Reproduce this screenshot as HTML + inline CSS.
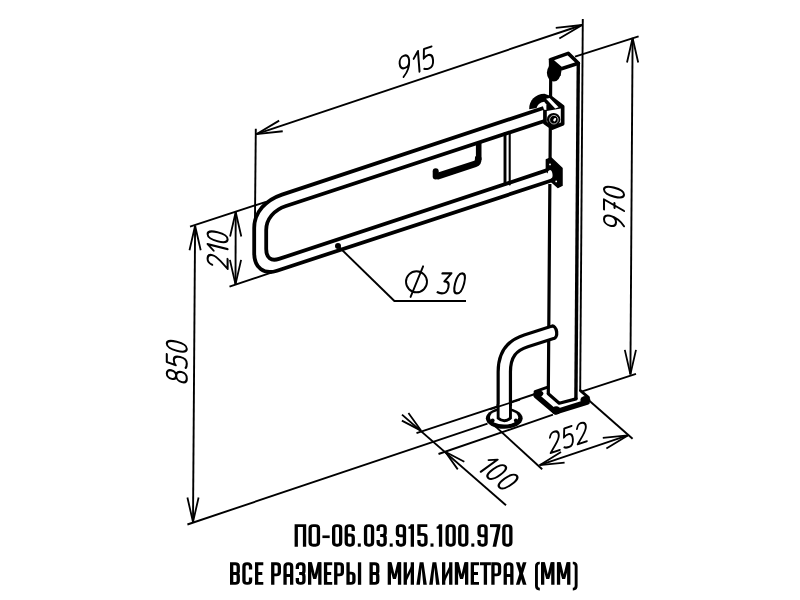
<!DOCTYPE html>
<html><head><meta charset="utf-8"><title>PO-06.03.915.100.970</title>
<style>
html,body{margin:0;padding:0;background:#fff;font-family:"Liberation Sans",sans-serif;}
body{width:800px;height:600px;overflow:hidden;}
svg{display:block;}
</style></head>
<body>
<svg width="800" height="600" viewBox="0 0 800 600">
<rect width="800" height="600" fill="#fff"/>
<g stroke="#000" stroke-width="1.9" stroke-linecap="butt" fill="none"><line x1="256.3" y1="134.2" x2="582.2" y2="25.0"/>
<line x1="255.8" y1="128.8" x2="254.9" y2="228"/>
<line x1="582.8" y1="19" x2="580.2" y2="391"/>
<line x1="575" y1="56.7" x2="638.6" y2="36.4"/>
<line x1="632.6" y1="38" x2="630.4" y2="374.4"/>
<line x1="581.5" y1="391.7" x2="636" y2="373.8"/>
<line x1="190" y1="226.7" x2="266" y2="201.8"/>
<line x1="229.5" y1="286.6" x2="272" y2="272.4"/>
<line x1="235.7" y1="212" x2="235.5" y2="284.4"/>
<line x1="195.1" y1="225.7" x2="193" y2="522"/>
<line x1="187.4" y1="524.5" x2="487.5" y2="423.6"/>
<line x1="416.5" y1="433.2" x2="535" y2="394"/>
<line x1="438.5" y1="454" x2="553" y2="414.7"/>
<line x1="402" y1="414.6" x2="506" y2="505.2"/>
<line x1="494.5" y1="425.6" x2="542.2" y2="469.3"/>
<line x1="588.5" y1="400" x2="632.6" y2="438.8"/>
<line x1="539.6" y1="465.2" x2="627.8" y2="435.4"/>
<line x1="338" y1="246" x2="394.4" y2="301"/>
<line x1="393.8" y1="301" x2="466" y2="301"/></g>
<path d="M279.17,120.63 L256.30,134.20 L282.73,131.25" fill="none" stroke="#000" stroke-width="1.8" stroke-linejoin="bevel"/>
<path d="M559.33,38.57 L582.20,25.00 L555.77,27.95" fill="none" stroke="#000" stroke-width="1.8" stroke-linejoin="bevel"/>
<path d="M638.20,62.50 L632.60,38.00 L627.00,62.50" fill="none" stroke="#000" stroke-width="1.8" stroke-linejoin="bevel"/>
<path d="M624.80,349.90 L630.40,374.40 L636.00,349.90" fill="none" stroke="#000" stroke-width="1.8" stroke-linejoin="bevel"/>
<path d="M241.30,236.50 L235.70,212.00 L230.10,236.50" fill="none" stroke="#000" stroke-width="1.8" stroke-linejoin="bevel"/>
<path d="M229.90,259.90 L235.50,284.40 L241.10,259.90" fill="none" stroke="#000" stroke-width="1.8" stroke-linejoin="bevel"/>
<path d="M200.70,250.20 L195.10,225.70 L189.50,250.20" fill="none" stroke="#000" stroke-width="1.8" stroke-linejoin="bevel"/>
<path d="M187.40,497.50 L193.00,522.00 L198.60,497.50" fill="none" stroke="#000" stroke-width="1.8" stroke-linejoin="bevel"/>
<path d="M401.87,420.59 L421.00,430.60 L408.44,413.04" fill="none" stroke="#000" stroke-width="1.8" stroke-linejoin="bevel"/>
<path d="M464.33,461.81 L445.20,451.80 L457.76,469.36" fill="none" stroke="#000" stroke-width="1.8" stroke-linejoin="bevel"/>
<path d="M561.02,452.05 L539.60,465.20 L564.60,462.66" fill="none" stroke="#000" stroke-width="1.8" stroke-linejoin="bevel"/>
<path d="M606.38,448.55 L627.80,435.40 L602.80,437.94" fill="none" stroke="#000" stroke-width="1.8" stroke-linejoin="bevel"/>
<g transform="translate(414.00,62.90) rotate(-18.4) scale(1.0) translate(-17.30,-10)" fill="none" stroke="#000" stroke-width="2.05" stroke-linecap="round" stroke-linejoin="round">
<path transform="translate(0.00,20) skewX(-14) translate(0,-20)" d="M10,6 C10,9.8 8,12 5,12 C2,12 0,9.8 0,6 C0,2.4 2,0 5,0 C8,0 10,2.4 10,6 C10,12.5 7.5,16.5 3,20"/>
<path transform="translate(14.80,20) skewX(-14) translate(0,-20)" d="M0,6 L5,0 L5,20"/>
<path transform="translate(24.60,20) skewX(-14) translate(0,-20)" d="M9.5,0 L1.5,0 L0.6,9 C2,7.6 3.6,7 5.4,7 C8.4,7 10,9.6 10,13.5 C10,17.6 8.2,20 5.2,20 C3.4,20 1.8,19.7 0.3,18.8"/>
</g>
<g transform="translate(614.00,209.40) rotate(-90) scale(1.0) translate(-19.80,-10)" fill="none" stroke="#000" stroke-width="2.05" stroke-linecap="round" stroke-linejoin="round">
<path transform="translate(0.00,20) skewX(-14) translate(0,-20)" d="M10,6 C10,9.8 8,12 5,12 C2,12 0,9.8 0,6 C0,2.4 2,0 5,0 C8,0 10,2.4 10,6 C10,12.5 7.5,16.5 3,20"/>
<path transform="translate(14.80,20) skewX(-14) translate(0,-20)" d="M0,0 L10,0 L3.5,20 M4,10.5 L9,10.5"/>
<path transform="translate(29.60,20) skewX(-14) translate(0,-20)" d="M5,0 C2.2,0 0.5,3.6 0.5,10 C0.5,16.4 2.2,20 5,20 C7.8,20 9.5,16.4 9.5,10 C9.5,3.6 7.8,0 5,0 Z"/>
</g>
<g transform="translate(217.60,251.60) rotate(-90) scale(1.0) translate(-17.30,-10)" fill="none" stroke="#000" stroke-width="2.05" stroke-linecap="round" stroke-linejoin="round">
<path transform="translate(0.00,20) skewX(-14) translate(0,-20)" d="M0.3,4.6 C1,1.8 2.6,0 5,0 C8,0 10,2 10,5 C10,8 8.5,10 6,13 L0,20 L10,20"/>
<path transform="translate(14.80,20) skewX(-14) translate(0,-20)" d="M0,6 L5,0 L5,20"/>
<path transform="translate(24.60,20) skewX(-14) translate(0,-20)" d="M5,0 C2.2,0 0.5,3.6 0.5,10 C0.5,16.4 2.2,20 5,20 C7.8,20 9.5,16.4 9.5,10 C9.5,3.6 7.8,0 5,0 Z"/>
</g>
<g transform="translate(176.80,363.60) rotate(-90) scale(1.0) translate(-19.80,-10)" fill="none" stroke="#000" stroke-width="2.05" stroke-linecap="round" stroke-linejoin="round">
<path transform="translate(0.00,20) skewX(-14) translate(0,-20)" d="M5,0 C2.2,0 0.8,2 0.8,4.7 C0.8,7.6 2.6,9.4 5,9.4 C7.4,9.4 9.2,7.6 9.2,4.7 C9.2,2 7.8,0 5,0 Z M5,9.4 C2,9.4 0,11.6 0,14.7 C0,18 2,20 5,20 C8,20 10,18 10,14.7 C10,11.6 8,9.4 5,9.4 Z"/>
<path transform="translate(14.80,20) skewX(-14) translate(0,-20)" d="M9.5,0 L1.5,0 L0.6,9 C2,7.6 3.6,7 5.4,7 C8.4,7 10,9.6 10,13.5 C10,17.6 8.2,20 5.2,20 C3.4,20 1.8,19.7 0.3,18.8"/>
<path transform="translate(29.60,20) skewX(-14) translate(0,-20)" d="M5,0 C2.2,0 0.5,3.6 0.5,10 C0.5,16.4 2.2,20 5,20 C7.8,20 9.5,16.4 9.5,10 C9.5,3.6 7.8,0 5,0 Z"/>
</g>
<g transform="translate(565.80,438.00) rotate(-17.8) scale(0.96) translate(-19.80,-10)" fill="none" stroke="#000" stroke-width="2.05" stroke-linecap="round" stroke-linejoin="round">
<path transform="translate(0.00,20) skewX(-14) translate(0,-20)" d="M0.3,4.6 C1,1.8 2.6,0 5,0 C8,0 10,2 10,5 C10,8 8.5,10 6,13 L0,20 L10,20"/>
<path transform="translate(14.80,20) skewX(-14) translate(0,-20)" d="M9.5,0 L1.5,0 L0.6,9 C2,7.6 3.6,7 5.4,7 C8.4,7 10,9.6 10,13.5 C10,17.6 8.2,20 5.2,20 C3.4,20 1.8,19.7 0.3,18.8"/>
<path transform="translate(29.60,20) skewX(-14) translate(0,-20)" d="M0.3,4.6 C1,1.8 2.6,0 5,0 C8,0 10,2 10,5 C10,8 8.5,10 6,13 L0,20 L10,20"/>
</g>
<g transform="translate(496.70,472.00) rotate(40) scale(1.0) translate(-17.30,-10)" fill="none" stroke="#000" stroke-width="2.05" stroke-linecap="round" stroke-linejoin="round">
<path transform="translate(0.00,20) skewX(-14) translate(0,-20)" d="M0,6 L5,0 L5,20"/>
<path transform="translate(9.80,20) skewX(-14) translate(0,-20)" d="M5,0 C2.2,0 0.5,3.6 0.5,10 C0.5,16.4 2.2,20 5,20 C7.8,20 9.5,16.4 9.5,10 C9.5,3.6 7.8,0 5,0 Z"/>
<path transform="translate(24.60,20) skewX(-14) translate(0,-20)" d="M5,0 C2.2,0 0.5,3.6 0.5,10 C0.5,16.4 2.2,20 5,20 C7.8,20 9.5,16.4 9.5,10 C9.5,3.6 7.8,0 5,0 Z"/>
</g>
<g transform="translate(449.50,283.40) rotate(0) scale(1.0) translate(-12.60,-10)" fill="none" stroke="#000" stroke-width="2.05" stroke-linecap="round" stroke-linejoin="round">
<path transform="translate(0.00,20) skewX(-14) translate(0,-20)" d="M0.5,0 L9.5,0 L4.5,8 C8,8 10,10.5 10,14 C10,17.8 8.2,20 5.2,20 C3.4,20 1.8,19.7 0.3,18.8"/>
<path transform="translate(15.20,20) skewX(-14) translate(0,-20)" d="M5,0 C2.2,0 0.5,3.6 0.5,10 C0.5,16.4 2.2,20 5,20 C7.8,20 9.5,16.4 9.5,10 C9.5,3.6 7.8,0 5,0 Z"/>
</g>
<g fill="none" stroke="#000" stroke-width="1.9" stroke-linecap="round"><circle cx="416.5" cy="281.8" r="10.5"/><line x1="410.6" y1="296.9" x2="423.1" y2="266.3"/></g>
<circle cx="338" cy="246" r="3.0" fill="#000"/>
<path d="M529.2,109.2 C528.8,100.6 535.4,94 544.5,93.8 L552,96.6 L546,106 L537,108 Z" fill="#000"/>
<path d="M550.4,96.6 L563,106.4 L563,124 L552.4,128.4 L544.6,123 L544.6,109 L541,101 Z" fill="#000" stroke="#000" stroke-width="3" stroke-linejoin="round"/>
<path d="M536.4,108.6 Q537.6,102.8 544.2,101.7 L546.4,104.6 L546.4,110 Z" fill="#fff"/>
<path d="M546.0,98.8 L549.6,98.0 L558.6,107.2 L555.2,108.5 Z" fill="#fff"/>
<path d="M546.8,111.0 L560.8,108.6 L560.8,122.5 L552.6,125.9 L546.8,121.7 Z" fill="#fff"/>
<circle cx="553.6" cy="119.6" r="6.7" fill="#000"/>
<circle cx="553.9" cy="119.7" r="4.3" fill="none" stroke="#fff" stroke-width="0.7"/>
<ellipse cx="554.7" cy="119.7" rx="1.2" ry="1.9" fill="#fff" transform="rotate(30 554.7 119.7)"/>
<g fill="none" stroke="#000" stroke-width="3.8" stroke-linejoin="round" stroke-linecap="butt">
<path d="M543.5,108 L282,194.6 C266,200 254.2,212 254.2,228 L254.2,253 C254.2,268 264,275 277,270.7 L553,180"/>
<path d="M544.5,121 L286,206 C274,210 266.2,219 266.2,230 L266.2,249 C266.2,258 271,261.5 279,258.9 L548,169.9"/>
</g>
<g fill="none" stroke="#000" stroke-linecap="round">
<path d="M505,133.5 L505,184.5" stroke-width="2.9"/>
<path d="M509.7,132 L509.7,184.5" stroke-width="2.1"/>
</g>
<path d="M478.7,142.6 L478.7,160" fill="none" stroke="#000" stroke-width="5.6" stroke-linecap="butt"/>
<path d="M478.2,158.6 Q478.6,162.7 475.2,163.8 L438.2,176.0" fill="none" stroke="#000" stroke-width="6.6" stroke-linecap="round" stroke-linejoin="round"/>
<path d="M435.7,171.2 L435.7,176.4" fill="none" stroke="#000" stroke-width="6.0" stroke-linecap="round"/>
<g fill="none" stroke="#000" stroke-linecap="butt">
<path d="M550.7,78 L550.55,97.5 M550.3,127 L550.05,160 M549.85,184 L548.3,394" stroke-width="3.2"/>
<path d="M578.3,62 L575.9,399" stroke-width="3.4"/>
</g>
<path d="M550.6,59.6 L568.2,53.4 L578.4,63.2 L561.4,68.8 Z" fill="#fff" stroke="#000" stroke-width="3.6" stroke-linejoin="round"/>
<path d="M548.8,58.5 L561.5,70.5 L560.5,76 L549,76 Z" fill="#000"/>
<ellipse cx="553.8" cy="72.8" rx="6.9" ry="8.8" fill="#000"/>
<path d="M546.4,159.6 L551.2,158 L562,168.2 L562,185.4 L558,187.4 L551.5,181.6 L551.5,176 L546.4,171 Z" fill="#000" stroke="#000" stroke-width="1.5" stroke-linejoin="round"/>
<circle cx="550" cy="164.4" r="0.9" fill="#fff"/><circle cx="556.2" cy="181.4" r="0.9" fill="#fff"/>
<ellipse cx="550.2" cy="174.3" rx="2.3" ry="4.2" fill="#fff" transform="rotate(-8 550.2 174.3)"/>
<g fill="none" stroke="#000" stroke-linejoin="round" stroke-linecap="round">
<path d="M536.2,395.6 L555.4,412 L587,402.2" stroke-width="5.4"/>
<path d="M535,391.6 L547,387.4 M588.4,397.4 L580.4,390.6" stroke-width="2.8"/>
<path d="M548.3,393.8 L559.2,403.2 L576.1,398.9" stroke-width="3.2"/>
</g>
<ellipse cx="538.4" cy="393.6" rx="5" ry="3.4" fill="#000"/><ellipse cx="556.2" cy="410.4" rx="4.6" ry="4.2" fill="#000"/><ellipse cx="585.4" cy="400" rx="5" ry="3.9" fill="#000"/>
<path d="M504.3,406 L504.3,372 C504.3,354 512,345.2 526,340.8 L552.5,332.4" fill="none" stroke="#000" stroke-width="15.5" stroke-linecap="butt"/>
<ellipse cx="553" cy="332.2" rx="5.3" ry="7.9" fill="#000" transform="rotate(-8 553 332.2)"/>
<path d="M504.3,406 L504.3,372 C504.3,354 512,345.2 526,340.8 L552.5,332.4" fill="none" stroke="#fff" stroke-width="9.1" stroke-linecap="butt"/>
<ellipse cx="552.6" cy="332.4" rx="2.4" ry="4.6" fill="#fff" transform="rotate(-8 552.6 332.4)"/>
<ellipse cx="504.25" cy="418.3" rx="18.4" ry="10.5" fill="#000"/>
<ellipse cx="504.1" cy="417.3" rx="14.1" ry="7.3" fill="#fff"/>
<path d="M498.15,404 L498.15,419 Q504.3,423.6 510.45,419 L510.45,404 Z" fill="#fff"/>
<path d="M498.15,404 L498.15,418.2 Q504.3,423.4 510.45,418.2 L510.45,404" fill="none" stroke="#000" stroke-width="2.9"/>
<circle cx="492.6" cy="420.4" r="2.0" fill="#000"/><circle cx="515.9" cy="420.4" r="2.0" fill="#000"/>
<line x1="490" y1="409.4" x2="520" y2="399.6" stroke="#000" stroke-width="1.8"/>
<g transform="translate(0,524.2) scale(1,0.88)" fill="none" stroke="#000" stroke-linejoin="miter" stroke-linecap="butt">
<path d="M296.25,25.568181818181817 L296.25,1.65 L304.55000000000007,1.65 L304.55000000000007,25.568181818181817" stroke-width="3.3" />
<path d="M310.15,4.65 Q310.15,1.65 313.15,1.65 L315.45000000000005,1.65 Q318.45000000000005,1.65 318.45000000000005,4.65 L318.45000000000005,20.918181818181818 Q318.45000000000005,23.918181818181818 315.45000000000005,23.918181818181818 L313.15,23.918181818181818 Q310.15,23.918181818181818 310.15,20.918181818181818 Z" stroke-width="3.3" />
<path d="M322.4,14.284090909090908 L329.7,14.284090909090908" stroke-width="3.0" />
<path d="M333.65,4.65 Q333.65,1.65 336.65,1.65 L337.65000000000003,1.65 Q340.65000000000003,1.65 340.65000000000003,4.65 L340.65000000000003,20.918181818181818 Q340.65000000000003,23.918181818181818 337.65000000000003,23.918181818181818 L336.65,23.918181818181818 Q333.65,23.918181818181818 333.65,20.918181818181818 Z" stroke-width="3.3" />
<path d="M353.25000000000006,7.65 L353.25000000000006,4.65 Q353.25000000000006,1.65 350.25000000000006,1.65 L349.25,1.65 Q346.25,1.65 346.25,4.65 L346.25,20.918181818181818 Q346.25,23.918181818181818 349.25,23.918181818181818 L350.25000000000006,23.918181818181818 Q353.25000000000006,23.918181818181818 353.25000000000006,20.918181818181818 L353.25000000000006,15.284090909090908 Q353.25000000000006,12.284090909090908 350.25000000000006,12.284090909090908 L346.25,12.284090909090908" stroke-width="3.3" />
<rect x="357.80000000000007" y="21.868181818181817" width="3.0" height="3.7" fill="#000" stroke="none"/>
<path d="M365.55000000000007,4.65 Q365.55000000000007,1.65 368.55000000000007,1.65 L369.5500000000001,1.65 Q372.5500000000001,1.65 372.5500000000001,4.65 L372.5500000000001,20.918181818181818 Q372.5500000000001,23.918181818181818 369.5500000000001,23.918181818181818 L368.55000000000007,23.918181818181818 Q365.55000000000007,23.918181818181818 365.55000000000007,20.918181818181818 Z" stroke-width="3.3" />
<path d="M378.1500000000001,7.65 L378.1500000000001,4.65 Q378.1500000000001,1.65 381.1500000000001,1.65 L382.15000000000015,1.65 Q385.15000000000015,1.65 385.15000000000015,4.65 L385.15000000000015,9.784090909090908 Q385.15000000000015,12.784090909090908 382.15000000000015,12.784090909090908 L380.1500000000001,12.784090909090908 M382.15000000000015,12.784090909090908 Q385.15000000000015,12.784090909090908 385.15000000000015,15.784090909090908 L385.15000000000015,20.918181818181818 Q385.15000000000015,23.918181818181818 382.15000000000015,23.918181818181818 L381.1500000000001,23.918181818181818 Q378.1500000000001,23.918181818181818 378.1500000000001,20.918181818181818 L378.1500000000001,17.918181818181818" stroke-width="3.3" />
<rect x="389.70000000000016" y="21.868181818181817" width="3.0" height="3.7" fill="#000" stroke="none"/>
<path d="M397.45000000000016,17.918181818181818 L397.45000000000016,20.918181818181818 Q397.45000000000016,23.918181818181818 400.45000000000016,23.918181818181818 L401.4500000000002,23.918181818181818 Q404.4500000000002,23.918181818181818 404.4500000000002,20.918181818181818 L404.4500000000002,4.65 Q404.4500000000002,1.65 401.4500000000002,1.65 L400.45000000000016,1.65 Q397.45000000000016,1.65 397.45000000000016,4.65 L397.45000000000016,10.284090909090908 Q397.45000000000016,13.284090909090908 400.45000000000016,13.284090909090908 L404.4500000000002,13.284090909090908" stroke-width="3.3" />
<path d="M410.7000000000002,0 L414.0000000000002,0 L414.0000000000002,25.568181818181817 L410.7000000000002,25.568181818181817 L410.7000000000002,5.2 L408.4000000000002,5.2 L408.4000000000002,2.8 Q410.4000000000002,2.6 410.7000000000002,0 Z" fill="#000" stroke="none"/>
<path d="M427.3000000000002,1.65 L418.95000000000016,1.65 L418.95000000000016,11.584090909090909 L422.9500000000002,11.584090909090909 Q425.9500000000002,11.584090909090909 425.9500000000002,14.584090909090909 L425.9500000000002,20.918181818181818 Q425.9500000000002,23.918181818181818 422.9500000000002,23.918181818181818 L421.95000000000016,23.918181818181818 Q418.95000000000016,23.918181818181818 418.95000000000016,20.918181818181818 L418.95000000000016,17.918181818181818" stroke-width="3.3" />
<rect x="430.5000000000002" y="21.868181818181817" width="3.0" height="3.7" fill="#000" stroke="none"/>
<path d="M438.90000000000026,0 L442.2000000000003,0 L442.2000000000003,25.568181818181817 L438.90000000000026,25.568181818181817 L438.90000000000026,5.2 L436.60000000000025,5.2 L436.60000000000025,2.8 Q438.60000000000025,2.6 438.90000000000026,0 Z" fill="#000" stroke="none"/>
<path d="M447.1500000000002,4.65 Q447.1500000000002,1.65 450.1500000000002,1.65 L451.15000000000026,1.65 Q454.15000000000026,1.65 454.15000000000026,4.65 L454.15000000000026,20.918181818181818 Q454.15000000000026,23.918181818181818 451.15000000000026,23.918181818181818 L450.1500000000002,23.918181818181818 Q447.1500000000002,23.918181818181818 447.1500000000002,20.918181818181818 Z" stroke-width="3.3" />
<path d="M459.7500000000002,4.65 Q459.7500000000002,1.65 462.7500000000002,1.65 L463.7500000000003,1.65 Q466.7500000000003,1.65 466.7500000000003,4.65 L466.7500000000003,20.918181818181818 Q466.7500000000003,23.918181818181818 463.7500000000003,23.918181818181818 L462.7500000000002,23.918181818181818 Q459.7500000000002,23.918181818181818 459.7500000000002,20.918181818181818 Z" stroke-width="3.3" />
<rect x="471.3000000000003" y="21.868181818181817" width="3.0" height="3.7" fill="#000" stroke="none"/>
<path d="M479.0500000000003,17.918181818181818 L479.0500000000003,20.918181818181818 Q479.0500000000003,23.918181818181818 482.0500000000003,23.918181818181818 L483.05000000000035,23.918181818181818 Q486.05000000000035,23.918181818181818 486.05000000000035,20.918181818181818 L486.05000000000035,4.65 Q486.05000000000035,1.65 483.05000000000035,1.65 L482.0500000000003,1.65 Q479.0500000000003,1.65 479.0500000000003,4.65 L479.0500000000003,10.284090909090908 Q479.0500000000003,13.284090909090908 482.0500000000003,13.284090909090908 L486.05000000000035,13.284090909090908" stroke-width="3.3" />
<path d="M490.00000000000034,1.65 L500.4000000000003,1.65" stroke-width="3.3" />
<path d="M500.4000000000003,3.3 L496.9000000000003,3.3 L492.60000000000036,25.568181818181817 L496.20000000000033,25.568181818181817 Z" fill="#000" stroke="none"/>
<path d="M503.8500000000003,4.65 Q503.8500000000003,1.65 506.8500000000003,1.65 L507.85000000000036,1.65 Q510.85000000000036,1.65 510.85000000000036,4.65 L510.85000000000036,20.918181818181818 Q510.85000000000036,23.918181818181818 507.85000000000036,23.918181818181818 L506.8500000000003,23.918181818181818 Q503.8500000000003,23.918181818181818 503.8500000000003,20.918181818181818 Z" stroke-width="3.3" />
</g>
<g transform="translate(0,562.3) scale(1,0.88)" fill="none" stroke="#000" stroke-linejoin="miter" stroke-linecap="butt">
<path d="M231.65,25.568181818181817 L231.65,0 M231.65,1.65 L235.25,1.65 Q238.25,1.65 238.25,4.65 L238.25,10.084090909090909 Q238.25,12.784090909090908 235.85,12.784090909090908 L231.65,12.784090909090908 M235.85,12.784090909090908 Q238.25,12.784090909090908 238.25,15.484090909090908 L238.25,20.918181818181818 Q238.25,23.918181818181818 235.25,23.918181818181818 L231.65,23.918181818181818" stroke-width="3.3" />
<path d="M250.55,8.25 L250.55,4.65 Q250.55,1.65 247.55,1.65 L246.95000000000002,1.65 Q243.95000000000002,1.65 243.95000000000002,4.65 L243.95000000000002,20.918181818181818 Q243.95000000000002,23.918181818181818 246.95000000000002,23.918181818181818 L247.55,23.918181818181818 Q250.55,23.918181818181818 250.55,20.918181818181818 L250.55,17.318181818181817" stroke-width="3.3" />
<path d="M263.3,1.65 L256.65,1.65 L256.65,23.918181818181818 L263.3,23.918181818181818 M256.65,12.784090909090908 L262.3,12.784090909090908" stroke-width="3.3" />
<path d="M272.74999999999994,25.568181818181817 L272.74999999999994,1.65 L276.34999999999997,1.65 Q279.34999999999997,1.65 279.34999999999997,4.65 L279.34999999999997,11.284090909090908 Q279.34999999999997,14.284090909090908 276.34999999999997,14.284090909090908 L272.74999999999994,14.284090909090908" stroke-width="3.3" />
<path d="M285.04999999999995,25.568181818181817 L285.04999999999995,4.65 Q285.04999999999995,1.65 288.04999999999995,1.65 L288.65,1.65 Q291.65,1.65 291.65,4.65 L291.65,25.568181818181817 M285.04999999999995,14.98409090909091 L291.65,14.98409090909091" stroke-width="3.3" />
<path d="M297.34999999999997,7.65 L297.34999999999997,4.65 Q297.34999999999997,1.65 300.34999999999997,1.65 L300.95,1.65 Q303.95,1.65 303.95,4.65 L303.95,9.784090909090908 Q303.95,12.784090909090908 300.95,12.784090909090908 L299.15,12.784090909090908 M300.95,12.784090909090908 Q303.95,12.784090909090908 303.95,15.784090909090908 L303.95,20.918181818181818 Q303.95,23.918181818181818 300.95,23.918181818181818 L300.34999999999997,23.918181818181818 Q297.34999999999997,23.918181818181818 297.34999999999997,20.918181818181818 L297.34999999999997,17.918181818181818" stroke-width="3.3" />
<path d="M309.65,25.568181818181817 L309.65,0 M319.85,25.568181818181817 L319.85,0" stroke-width="3.3" />
<path d="M308.4,0 L311.9,0 L314.75,13.5 L317.6,0 L321.1,0 L316.25,19 L313.25,19 Z" fill="#000" stroke="none"/>
<path d="M332.2,1.65 L325.54999999999995,1.65 L325.54999999999995,23.918181818181818 L332.2,23.918181818181818 M325.54999999999995,12.784090909090908 L331.2,12.784090909090908" stroke-width="3.3" />
<path d="M335.74999999999994,25.568181818181817 L335.74999999999994,1.65 L339.34999999999997,1.65 Q342.34999999999997,1.65 342.34999999999997,4.65 L342.34999999999997,11.284090909090908 Q342.34999999999997,14.284090909090908 339.34999999999997,14.284090909090908 L335.74999999999994,14.284090909090908" stroke-width="3.3" />
<path d="M348.04999999999995,0 L348.04999999999995,23.918181818181818 L350.926,23.918181818181818 Q353.926,23.918181818181818 353.926,20.918181818181818 L353.926,15.284090909090908 Q353.926,12.284090909090908 350.926,12.284090909090908 L348.04999999999995,12.284090909090908" stroke-width="3.3" />
<path d="M359.55,0 L359.55,25.568181818181817" stroke-width="3.3" />
<path d="M371.1499999999999,25.568181818181817 L371.1499999999999,0 M371.1499999999999,1.65 L374.74999999999994,1.65 Q377.74999999999994,1.65 377.74999999999994,4.65 L377.74999999999994,10.084090909090909 Q377.74999999999994,12.784090909090908 375.34999999999997,12.784090909090908 L371.1499999999999,12.784090909090908 M375.34999999999997,12.784090909090908 Q377.74999999999994,12.784090909090908 377.74999999999994,15.484090909090908 L377.74999999999994,20.918181818181818 Q377.74999999999994,23.918181818181818 374.74999999999994,23.918181818181818 L371.1499999999999,23.918181818181818" stroke-width="3.3" />
<path d="M389.3499999999999,25.568181818181817 L389.3499999999999,0 M399.54999999999995,25.568181818181817 L399.54999999999995,0" stroke-width="3.3" />
<path d="M388.0999999999999,0 L391.5999999999999,0 L394.44999999999993,13.5 L397.29999999999995,0 L400.79999999999995,0 L395.94999999999993,19 L392.94999999999993,19 Z" fill="#000" stroke="none"/>
<path d="M405.2499999999999,25.568181818181817 L405.2499999999999,0 M412.3499999999999,25.568181818181817 L412.3499999999999,0" stroke-width="3.3" />
<path d="M405.2499999999999,24.568181818181817 L405.2499999999999,18.068181818181817 L412.3499999999999,1 L412.3499999999999,7.5 Z" fill="#000" stroke="none"/>
<path d="M416.3999999999999,25.568181818181817 L419.69999999999993,0 L423.4999999999999,0 L426.7999999999999,25.568181818181817 L423.2999999999999,25.568181818181817 L421.5999999999999,6 L419.8999999999999,25.568181818181817 Z" fill="#000" stroke="none"/>
<path d="M429.19999999999993,25.568181818181817 L432.49999999999994,0 L436.2999999999999,0 L439.5999999999999,25.568181818181817 L436.0999999999999,25.568181818181817 L434.3999999999999,6 L432.69999999999993,25.568181818181817 Z" fill="#000" stroke="none"/>
<path d="M443.6499999999999,25.568181818181817 L443.6499999999999,0 M450.74999999999994,25.568181818181817 L450.74999999999994,0" stroke-width="3.3" />
<path d="M443.6499999999999,24.568181818181817 L443.6499999999999,18.068181818181817 L450.74999999999994,1 L450.74999999999994,7.5 Z" fill="#000" stroke="none"/>
<path d="M456.44999999999993,25.568181818181817 L456.44999999999993,0 M466.65,25.568181818181817 L466.65,0" stroke-width="3.3" />
<path d="M455.19999999999993,0 L458.69999999999993,0 L461.54999999999995,13.5 L464.4,0 L467.9,0 L463.04999999999995,19 L460.04999999999995,19 Z" fill="#000" stroke="none"/>
<path d="M478.99999999999994,1.65 L472.3499999999999,1.65 L472.3499999999999,23.918181818181818 L478.99999999999994,23.918181818181818 M472.3499999999999,12.784090909090908 L477.99999999999994,12.784090909090908" stroke-width="3.3" />
<path d="M479.8999999999999,1.65 L490.8999999999999,1.65 M485.3999999999999,0 L485.3999999999999,25.568181818181817" stroke-width="3.3" />
<path d="M492.9499999999999,25.568181818181817 L492.9499999999999,1.65 L496.5499999999999,1.65 Q499.5499999999999,1.65 499.5499999999999,4.65 L499.5499999999999,11.284090909090908 Q499.5499999999999,14.284090909090908 496.5499999999999,14.284090909090908 L492.9499999999999,14.284090909090908" stroke-width="3.3" />
<path d="M505.2499999999999,25.568181818181817 L505.2499999999999,4.65 Q505.2499999999999,1.65 508.2499999999999,1.65 L508.8499999999999,1.65 Q511.8499999999999,1.65 511.8499999999999,4.65 L511.8499999999999,25.568181818181817 M505.2499999999999,14.98409090909091 L511.8499999999999,14.98409090909091" stroke-width="3.3" />
<path d="M515.8999999999999,0 L519.4999999999999,0 L526.4999999999999,25.568181818181817 L522.8999999999999,25.568181818181817 Z" fill="#000" stroke="none"/><path d="M526.4999999999999,0 L522.8999999999999,0 L515.8999999999999,25.568181818181817 L519.4999999999999,25.568181818181817 Z" fill="#000" stroke="none"/>
<path d="M539.7999999999998,0.8 L539.4499999999998,0.8 Q536.4499999999998,0.8 536.4499999999998,4.5 L536.4499999999998,26.768181818181816 Q536.4499999999998,30.46818181818182 539.4499999999998,30.46818181818182 L539.7999999999998,30.46818181818182" stroke-width="2.9" />
<path d="M542.6499999999999,25.568181818181817 L542.6499999999999,0 M552.8499999999999,25.568181818181817 L552.8499999999999,0" stroke-width="3.3" />
<path d="M541.3999999999999,0 L544.8999999999999,0 L547.7499999999999,13.5 L550.5999999999999,0 L554.0999999999999,0 L549.2499999999999,19 L546.2499999999999,19 Z" fill="#000" stroke="none"/>
<path d="M558.5499999999998,25.568181818181817 L558.5499999999998,0 M568.7499999999999,25.568181818181817 L568.7499999999999,0" stroke-width="3.3" />
<path d="M557.2999999999998,0 L560.7999999999998,0 L563.6499999999999,13.5 L566.4999999999999,0 L569.9999999999999,0 L565.1499999999999,19 L562.1499999999999,19 Z" fill="#000" stroke="none"/>
<path d="M572.7999999999998,0.8 L573.1499999999999,0.8 Q576.1499999999999,0.8 576.1499999999999,4.5 L576.1499999999999,26.768181818181816 Q576.1499999999999,30.46818181818182 573.1499999999999,30.46818181818182 L572.7999999999998,30.46818181818182" stroke-width="2.9" />
</g>
</svg>
</body></html>
